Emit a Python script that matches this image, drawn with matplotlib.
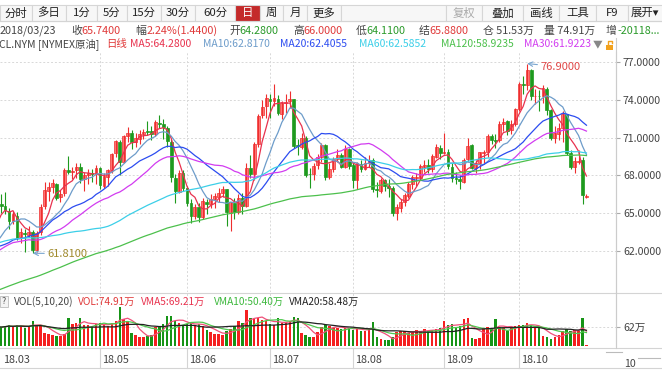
import numpy as np
import pandas as pd
import matplotlib
matplotlib.use('Agg')
import matplotlib.pyplot as plt
from matplotlib.lines import Line2D
from matplotlib.patches import Rectangle

plt.rcParams['font.family'] = ['Noto Sans CJK SC', 'DejaVu Sans']

W, H = 662, 373

# 日线 OHLC, 2018/03/23 起
opens = [64.28, 65.75, 65.60, 65.20, 64.40, 64.80, 63.10, 63.40, 63.30, 63.50,
         62.10, 63.50, 65.60, 66.80, 67.10, 67.30, 66.30, 66.60, 68.40, 68.30,
         68.40, 68.70, 67.70, 68.00, 68.20, 68.10, 68.60, 67.20, 67.90, 68.40,
         69.80, 70.70, 69.10, 71.10, 71.40, 70.70, 70.90, 71.30, 71.50, 71.50,
         71.30, 72.20, 72.10, 71.80, 70.70, 67.80, 66.70, 68.20, 67.00, 65.80,
         64.80, 65.50, 64.70, 65.90, 65.70, 66.10, 66.30, 66.60, 66.90, 65.00,
         65.80, 65.10, 66.20, 65.60, 68.60, 68.10, 70.50, 72.80, 73.50, 74.10,
         73.90, 74.10, 72.90, 73.80, 73.90, 74.10, 70.40, 70.30, 71.00, 68.10,
         68.10, 68.80, 69.50, 70.40, 67.90, 68.50, 69.30, 69.60, 68.70, 70.10,
         68.80, 67.60, 68.90, 68.50, 69.00, 69.20, 66.90, 66.80, 67.60, 67.20,
         67.00, 65.00, 65.40, 65.90, 66.40, 67.30, 67.80, 67.80, 68.70, 68.80,
         68.50, 69.50, 70.20, 69.80, 69.90, 68.70, 67.80, 67.70, 67.50, 69.30,
         70.40, 68.60, 69.00, 69.80, 69.90, 71.10, 70.80, 70.80, 72.10, 72.30,
         71.60, 72.10, 73.30, 75.30, 75.20, 76.40, 74.30, 74.30, 74.30, 74.90,
         73.20, 71.00, 71.30, 71.80, 72.90, 69.80, 68.70, 69.10, 69.20, 66.25]
highs = [66.00, 66.55, 66.66, 65.45, 65.20, 65.10, 63.80, 63.75, 64.00, 63.65,
         63.60, 65.70, 67.45, 67.45, 67.70, 67.40, 66.85, 68.57, 69.56, 68.70,
         69.00, 68.97, 68.30, 68.50, 68.55, 68.80, 68.70, 68.20, 68.50, 69.80,
         70.84, 70.80, 71.20, 71.89, 71.60, 71.40, 71.64, 71.70, 72.30, 71.92,
         72.40, 72.83, 72.50, 71.90, 70.90, 68.10, 68.45, 68.40, 67.20, 66.10,
         65.70, 65.80, 66.20, 66.10, 66.50, 66.60, 67.00, 67.20, 66.90, 65.90,
         66.20, 66.50, 66.60, 69.00, 69.60, 70.70, 72.90, 74.00, 74.46, 74.50,
         75.27, 74.40, 73.90, 74.50, 74.70, 74.10, 70.90, 71.40, 71.10, 68.60,
         69.00, 69.70, 70.60, 70.50, 69.00, 69.50, 70.10, 69.80, 70.40, 70.20,
         69.00, 69.10, 69.20, 69.50, 69.60, 69.40, 67.50, 67.80, 67.70, 67.70,
         67.20, 65.70, 66.10, 66.60, 67.50, 68.00, 68.20, 68.90, 69.20, 69.30,
         69.70, 70.50, 70.40, 71.40, 70.10, 69.00, 68.30, 68.00, 69.40, 71.00,
         70.50, 69.20, 69.90, 70.00, 71.30, 71.30, 71.30, 72.30, 72.60, 72.40,
         72.40, 73.40, 75.40, 75.90, 76.90, 76.50, 74.90, 74.80, 75.20, 75.00,
         73.30, 71.90, 72.20, 73.10, 72.90, 70.00, 69.50, 70.00, 69.50, 66.50]
lows = [64.11, 65.05, 64.95, 63.75, 64.10, 62.90, 62.60, 61.93, 63.10, 61.81,
        61.95, 63.30, 65.30, 66.00, 66.60, 66.05, 65.85, 66.40, 68.10, 67.75,
        67.80, 67.40, 66.80, 67.30, 67.50, 67.30, 66.90, 67.00, 67.20, 68.20,
        69.50, 68.00, 69.00, 70.70, 70.10, 70.30, 70.50, 70.90, 71.20, 70.80,
        71.10, 71.80, 70.90, 70.30, 67.50, 65.80, 66.60, 66.80, 65.60, 64.23,
        64.50, 64.30, 64.50, 64.90, 65.40, 65.40, 65.90, 66.30, 64.00, 63.59,
        64.50, 64.90, 64.90, 65.50, 67.80, 67.60, 70.30, 72.60, 72.60, 72.60,
        73.50, 72.80, 72.50, 73.00, 73.40, 70.20, 69.60, 70.10, 67.90, 67.00,
        67.60, 68.50, 69.10, 67.60, 67.70, 68.30, 69.10, 68.60, 68.60, 68.50,
        67.00, 66.90, 68.30, 68.40, 68.70, 66.70, 66.30, 66.60, 66.80, 66.30,
        64.80, 64.43, 65.10, 65.60, 66.20, 66.90, 67.20, 67.60, 68.30, 68.20,
        68.30, 69.40, 69.30, 69.70, 68.50, 67.50, 67.30, 66.90, 67.40, 69.10,
        68.50, 68.20, 68.50, 68.90, 69.50, 70.50, 70.20, 70.70, 71.50, 71.20,
        71.30, 71.90, 73.10, 74.50, 74.80, 74.00, 73.70, 73.10, 73.80, 72.80,
        70.80, 70.60, 70.80, 70.70, 69.60, 68.50, 68.20, 68.90, 65.74, 66.20]
closes = [65.88, 65.55, 65.25, 64.38, 64.94, 63.01, 63.51, 63.37, 63.54, 62.06,
          63.42, 65.51, 66.82, 67.07, 67.39, 66.22, 66.52, 68.47, 68.29, 68.38,
          68.64, 67.70, 68.05, 68.19, 68.10, 68.57, 67.25, 67.93, 68.43, 69.72,
          70.73, 69.06, 71.14, 71.36, 70.70, 70.96, 71.31, 71.49, 71.49, 71.28,
          72.24, 72.13, 71.84, 70.71, 67.88, 66.73, 68.21, 67.04, 65.81, 64.75,
          65.52, 64.73, 65.95, 65.74, 66.10, 66.36, 66.64, 66.89, 65.06, 65.85,
          65.07, 66.22, 65.54, 68.58, 68.08, 70.53, 72.76, 73.45, 74.15, 73.94,
          74.14, 72.94, 73.80, 73.85, 74.11, 70.38, 70.33, 71.01, 68.06, 68.08,
          68.76, 69.46, 70.46, 67.89, 68.52, 69.30, 69.61, 68.69, 70.13, 68.76,
          67.66, 68.96, 68.49, 69.01, 69.17, 66.94, 66.81, 67.63, 67.20, 67.04,
          65.01, 65.46, 65.91, 66.43, 67.35, 67.86, 67.83, 68.72, 68.87, 68.53,
          69.51, 70.25, 69.80, 69.87, 68.72, 67.77, 67.75, 67.54, 69.25, 70.37,
          68.59, 68.99, 69.85, 69.85, 71.12, 70.80, 70.78, 72.08, 72.28, 71.57,
          72.12, 73.25, 75.30, 75.23, 76.41, 74.33, 74.34, 74.29, 74.96, 73.17,
          70.97, 71.34, 71.78, 72.92, 69.75, 68.65, 69.12, 69.17, 66.43, 66.40]
# 成交量 (万手)
volumes = [63, 60, 66, 70, 62, 68, 65, 60, 64, 82,
           70, 68, 42, 38, 36, 32, 34, 40, 90, 72,
           75, 90, 70, 68, 64, 72, 75, 70, 66, 75,
           80, 128, 88, 82, 42, 35, 30, 28, 32, 36,
           62, 66, 72, 98, 98, 80, 74, 70, 72, 76,
           68, 72, 64, 52, 45, 40, 38, 36, 48, 55,
           65, 80, 75, 117, 90, 88, 92, 85, 80, 72,
           70, 90, 75, 78, 82, 95, 90, 42, 35, 28,
           30, 45, 62, 68, 66, 60, 58, 55, 58, 60,
           52, 55, 50, 48, 58, 77, 28, 22, 18, 20,
           30, 45, 50, 48, 42, 45, 52, 50, 55, 48,
           52, 55, 58, 83, 68, 72, 60, 65, 88, 90,
           25, 22, 25, 58, 62, 55, 88, 62, 58, 50,
           60, 65, 70, 68, 75, 68, 62, 58, 34, 28,
           24, 30, 36, 50, 55, 48, 52, 50, 90, 3]
# 均线用的前期收盘价 (2017/10 - 2018/03/22)
prior_closes = [50.58, 50.42, 49.98, 50.79, 49.29, 49.58, 50.92, 51.30, 50.60, 51.45, 51.87,
                51.88, 52.04, 51.29, 51.84, 51.90, 52.47, 52.18, 52.64, 53.90, 54.15, 54.38,
                54.30, 54.54, 55.64, 57.35, 57.20, 56.81, 57.17, 56.74, 56.76, 55.70, 55.33,
                55.14, 56.55, 56.09, 56.83, 58.02, 58.95, 58.11, 57.99, 57.30, 57.40,
                58.36, 57.47, 57.62, 55.96, 56.69, 57.36, 57.99, 57.14, 56.60, 57.04,
                57.30, 57.16, 57.46, 58.09, 58.36, 58.47, 59.97, 59.64, 59.84, 60.42,
                60.37, 61.63, 62.01, 61.44, 61.73, 62.96, 63.57, 63.80, 64.30, 63.73, 63.97,
                63.95, 63.37, 63.57, 64.47, 65.61, 65.51, 66.14, 65.56, 64.50, 64.73,
                65.80, 65.45, 64.15, 63.39, 61.79, 61.15, 59.20, 59.29, 59.19, 60.60,
                61.34, 61.68, 61.90, 61.68, 62.77, 63.55, 63.91, 63.01, 61.64,
                60.99, 61.25, 62.57, 62.60, 61.15, 60.12, 62.04, 61.36, 60.71, 60.96,
                61.19, 62.34, 62.06, 63.40, 65.17, 64.30]

month_labels = ['18.03', '18.05', '18.06', '18.07', '18.08', '18.09', '18.10']
month_index = [1, 26, 48, 69, 90, 113, 132]
price_ticks = [62, 65, 68, 71, 74, 77]

ma_colors = {5: '#e8324e', 10: '#6d9cca', 20: '#2c4cf0', 30: '#d23cf0', 60: '#3ccfe8', 120: '#4cc04c'}
RED = '#ee2e2e'
REDFILL = '#ff7878'
GREEN = '#1e9a1e'

o, h, l, c = (np.array(a) for a in (opens, highs, lows, closes))
v = np.array(volumes, dtype=float)
idx = np.arange(len(c))
up = c >= o

full = pd.Series(prior_closes + closes)
n0 = len(prior_closes)
ma = {n: full.rolling(n).mean().values[n0:] for n in ma_colors}
vs = pd.Series(v)
vma = {n: vs.rolling(n, min_periods=1).mean().values for n in (5, 10, 20)}

fig = plt.figure(figsize=(W / 100, H / 100), dpi=100)
fig.patch.set_facecolor('white')


def fx(x):
    return x / W


def fy(y):
    return 1 - y / H


def put(x, y, s, color='#333333', size=7.6, ha='left', **kw):
    fig.text(fx(x), fy(y), s, color=color, fontsize=size, ha=ha, va='center', **kw)


def hline(y, x0=0, x1=W, color='#d4d4d4', lw=0.8):
    fig.add_artist(Line2D([fx(x0), fx(x1)], [fy(y), fy(y)], color=color, lw=lw))


def vline(x, y0, y1, color='#d4d4d4', lw=0.8):
    fig.add_artist(Line2D([fx(x), fx(x)], [fy(y0), fy(y1)], color=color, lw=lw))


xlim = (0.72, 156.47)

# ---- 主图 K线 ----
ax = fig.add_axes([0, fy(292), fx(616), 240 / H])
ax.set_xlim(*xlim)
ax.set_ylim(58.73, 77.82)
ax.set_yticks(price_ticks)
ax.set_yticklabels([f'{p:.4f}' for p in price_ticks])
ax.set_xticks(month_index[1:])
ax.set_xticklabels([])
ax.grid(True, ls=(0, (2, 2)), color='#d8d8d8', lw=0.7)
ax.set_axisbelow(True)
ax.yaxis.tick_right()
ax.tick_params(axis='y', length=3, color='#aaaaaa', labelsize=7.6, labelcolor='#444444', pad=2)
ax.tick_params(axis='x', length=0)
for s in ('top', 'left', 'bottom'):
    ax.spines[s].set_visible(False)
ax.spines['right'].set_color('#cccccc')

ax.vlines(idx[up], l[up], h[up], color=RED, lw=0.8)
ax.vlines(idx[~up], l[~up], h[~up], color=GREEN, lw=0.8)
body = np.maximum(np.abs(c - o), 0.05)
ax.bar(idx[up], body[up], bottom=o[up], width=0.72, color=REDFILL, edgecolor=RED, lw=0.5)
ax.bar(idx[~up], body[~up], bottom=c[~up], width=0.72, color=GREEN, edgecolor=GREEN, lw=0.5)

for n, col in ma_colors.items():
    ax.plot(idx, ma[n], color=col, lw=0.9)

ihi = int(np.argmax(h))
ilo = int(np.argmin(l))
ax.annotate(f'{h[ihi]:.4f}', xy=(ihi, h[ihi]), xytext=(ihi + 3.3, h[ihi] - 0.27),
            ha='left', va='center', color='#e04848', fontsize=8,
            arrowprops=dict(arrowstyle='->', color='#7aa6d0', lw=0.8, shrinkA=0, shrinkB=0))
ax.annotate(f'{l[ilo]:.4f}', xy=(ilo, l[ilo]), xytext=(ilo + 3.6, l[ilo] - 0.02),
            ha='left', va='center', color='#a08a2c', fontsize=8,
            arrowprops=dict(arrowstyle='->', color='#7aa6d0', lw=0.8, shrinkA=0, shrinkB=0))

# ---- 成交量 ----
axv = fig.add_axes([0, fy(346), fx(616), 53 / H])
axv.set_xlim(*xlim)
axv.set_ylim(0, 173)
axv.set_yticks([62])
axv.set_yticklabels(['62万'])
axv.set_xticks(month_index[1:])
axv.set_xticklabels([])
axv.grid(True, ls=(0, (2, 2)), color='#d8d8d8', lw=0.7)
axv.set_axisbelow(True)
axv.yaxis.tick_right()
axv.tick_params(axis='y', length=3, color='#aaaaaa', labelsize=7.6, labelcolor='#444444', pad=2)
axv.tick_params(axis='x', length=0)
for s in ('top', 'left', 'bottom'):
    axv.spines[s].set_visible(False)
axv.spines['right'].set_color('#cccccc')
axv.bar(idx[up], v[up], width=0.62, color='#f52020')
axv.bar(idx[~up], v[~up], width=0.62, color='#169416')
axv.plot(idx, vma[5], color='#f0507a', lw=0.9)
axv.plot(idx, vma[10], color='#50c850', lw=0.9)
axv.plot(idx, vma[20], color='#222222', lw=0.9)

xt = axv.get_xaxis_transform()
for lab, i in zip(month_labels, month_index):
    axv.text(i + 0.45, -0.26, lab, transform=xt, ha='left', va='center',
             fontsize=7.8, color='#444444', clip_on=False)
    if i > 1:
        axv.plot([i, i], [-0.04, -0.42], transform=xt, color='#d4d4d4', lw=0.8, clip_on=False)

# ---- 分隔线 ----
hline(21)
hline(293)
hline(348)
hline(368)
vline(616, 38, 348, color='#cccccc')
hline(352, 606, 622, color='#bbbbbb')
hline(358, 638, 660, color='#bbbbbb')
put(624, 364, '10', color='#444444', size=7.6)

# ---- 工具栏 ----
cells = [(0, 32, '分时'), (32, 66, '多日'), (66, 97, '1分'), (97, 127, '5分'), (127, 161, '15分'),
         (161, 195, '30分'), (195, 235, '60分'), (235, 260, '日'), (260, 283, '周'), (283, 307, '月'),
         (307, 341, '更多'), (341, 446, ''), (446, 482, '复权'), (482, 523, '叠加'), (523, 559, '画线'),
         (559, 596, '工具'), (596, 628, 'F9'), (628, 668, '展开▾')]
for x0, x1, s in cells:
    active = s == '日'
    fig.add_artist(Rectangle((fx(x0), fy(21)), fx(x1 - x0), 16 / H,
                             facecolor='#c42a2a' if active else '#f7f7f7',
                             edgecolor='#d6d6d6', lw=0.8))
    col = 'white' if active else ('#aaaaaa' if s == '复权' else '#222222')
    if s:
        put((x0 + x1) / 2 if s != '展开▾' else 645, 13, s, color=col, size=8.2, ha='center')

# ---- 行情信息 ----
GR = '#444444'
R2 = 7.8
put(0, 31, '2018/03/23', GR, R2)
put(71, 31, '收', GR, R2)
put(81, 31, '65.7400', '#e03a3a', R2)
put(135, 31, '幅', GR, R2)
put(147, 31, '2.24%(1.4400)', '#e03a3a', R2)
put(229, 31, '开', GR, R2)
put(239, 31, '64.2800', '#2a9a2a', R2)
put(293, 31, '高', GR, R2)
put(303, 31, '66.0000', '#e03a3a', R2)
put(356, 31, '低', GR, R2)
put(366, 31, '64.1100', '#2a9a2a', R2)
put(419, 31, '结', GR, R2)
put(429, 31, '65.8800', '#e03a3a', R2)
put(483, 31, '仓 51.53万', GR, R2)
put(544, 31, '量 74.91万', GR, R2)
put(606, 31, '增', GR, R2)
put(617, 31, '-20118...', '#2a9a2a', R2)

R3 = 7.5
put(-1, 44, 'CL.NYM [NYMEX原油]', GR, R3)
put(106, 44, '日线', '#e03a3a', R3)
ma_text = [(130, 5, '64.2800'), (203, 10, '62.8170'), (280, 20, '62.4055'),
           (359, 60, '62.5852'), (441, 120, '58.9235'), (524, 30, '61.9223')]
for x, n, val in ma_text:
    put(x, 44, f'MA{n}:{val}', ma_colors[n], R3)
put(593, 44, '▼', '#888888', size=7)
fig.add_artist(Rectangle((fx(606), fy(50)), fx(7), 5 / H, facecolor='#f2a21e', edgecolor='none'))
fig.add_artist(Line2D([fx(608), fx(608), fx(612), fx(612)], [fy(45), fy(41), fy(41), fy(43)],
                      color='#f2a21e', lw=1.0))

# ---- 成交量标题 ----
fig.add_artist(Rectangle((fx(0), fy(307)), fx(8), 11 / H, facecolor='#f4f4f4', edgecolor='#bbbbbb', lw=0.6))
put(4, 301.5, '?', '#555555', size=6.5, ha='center')
put(14, 302, 'VOL(5,10,20)', GR, 7.3)
put(78, 302, 'VOL:74.91万', '#e03a3a', 7.3)
put(141, 302, 'VMA5:69.21万', '#e8324e', 7.3)
put(214, 302, 'VMA10:50.40万', '#3cb83c', 7.3)
put(289, 302, 'VMA20:58.48万', '#222222', 7.3)

fig.savefig('out.png', dpi=100, facecolor='white')
